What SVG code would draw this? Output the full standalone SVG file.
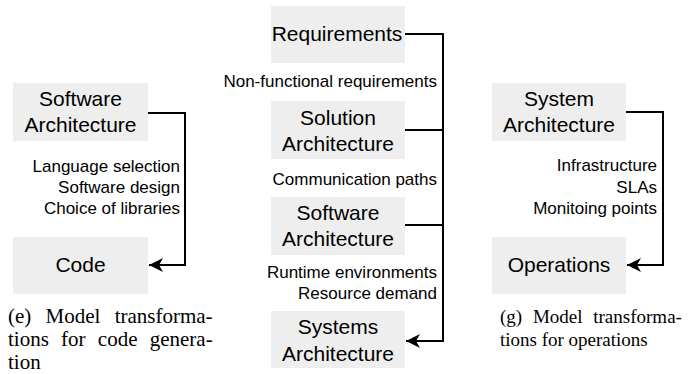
<svg xmlns="http://www.w3.org/2000/svg" width="693" height="374" viewBox="0 0 693 374">
  <style>
    .box { fill: #eeeeee; }
    .bt { font-family: "Liberation Sans", Arial, sans-serif; font-size: 21px; fill: #000; text-anchor: middle; }
    .lb { font-family: "Liberation Sans", Arial, sans-serif; font-size: 17px; fill: #000; text-anchor: end; }
    .cap { font-family: "Liberation Serif", "Times New Roman", serif; font-size: 21px; fill: #000; }
    .cap-g { font-size: 19px; }
    .wire { fill: none; stroke: #000; stroke-width: 2; }
  </style>
  <defs>
    <marker id="arrow" markerUnits="userSpaceOnUse" markerWidth="16" markerHeight="16" viewBox="0 0 16 16" refX="15" refY="8" orient="auto">
      <path d="M15,8 L1,1 L5,8 L1,15 Z" fill="#000"/>
    </marker>
  </defs>

  <!-- panel (e): code generation -->
  <g id="e-software-architecture">
    <rect class="box" x="13" y="83" width="135" height="58"/>
    <text class="bt" x="80.5" y="106">Software</text>
    <text class="bt" x="80.5" y="132">Architecture</text>
  </g>
  <g id="e-code">
    <rect class="box" x="13" y="237" width="135" height="57"/>
    <text class="bt" x="80.5" y="272">Code</text>
  </g>
  <g id="e-labels">
    <text class="lb" x="180" y="172">Language selection</text>
    <text class="lb" x="180" y="193">Software design</text>
    <text class="lb" x="180" y="214">Choice of libraries</text>
  </g>

  <!-- panel (f): architecture chain -->
  <g id="f-requirements">
    <rect class="box" x="271" y="6" width="134" height="57"/>
    <text class="bt" x="337" y="41">Requirements</text>
  </g>
  <g id="f-solution-architecture">
    <rect class="box" x="271" y="101" width="134" height="58"/>
    <text class="bt" x="338" y="125">Solution</text>
    <text class="bt" x="338" y="151">Architecture</text>
  </g>
  <g id="f-software-architecture">
    <rect class="box" x="271" y="197" width="134" height="58"/>
    <text class="bt" x="338" y="220">Software</text>
    <text class="bt" x="338" y="246">Architecture</text>
  </g>
  <g id="f-systems-architecture">
    <rect class="box" x="271" y="311" width="134" height="57"/>
    <text class="bt" x="338" y="334">Systems</text>
    <text class="bt" x="338" y="361">Architecture</text>
  </g>
  <g id="f-labels">
    <text class="lb" x="437" y="87">Non-functional requirements</text>
    <text class="lb" x="437" y="185">Communication paths</text>
    <text class="lb" x="437" y="278">Runtime environments</text>
    <text class="lb" x="437" y="299">Resource demand</text>
  </g>

  <!-- panel (g): operations -->
  <g id="g-system-architecture">
    <rect class="box" x="492" y="83" width="134" height="58"/>
    <text class="bt" x="559" y="106">System</text>
    <text class="bt" x="559" y="132">Architecture</text>
  </g>
  <g id="g-operations">
    <rect class="box" x="492" y="237" width="134" height="57"/>
    <text class="bt" x="559" y="272">Operations</text>
  </g>
  <g id="g-labels">
    <text class="lb" x="657" y="171">Infrastructure</text>
    <text class="lb" x="657" y="193">SLAs</text>
    <text class="lb" x="657" y="214">Monitoing points</text>
  </g>

  <!-- connectors -->
  <g id="connectors">
    <path class="wire" d="M148,113 H185 V265 H149" marker-end="url(#arrow)"/>
    <path class="wire" d="M405,34 H443 V341 H406" marker-end="url(#arrow)"/>
    <path class="wire" d="M405,130 H443"/>
    <path class="wire" d="M405,225 H443"/>
    <path class="wire" d="M626,112 H663 V265 H627" marker-end="url(#arrow)"/>
  </g>

  <!-- captions (justified lines use extra word spacing) -->
  <g id="captions">
    <text class="cap" x="8" y="322.5" word-spacing="9">(e) Model transforma-</text>
    <text class="cap" x="8" y="345.8" word-spacing="7">tions for code genera-</text>
    <text class="cap" x="8" y="369.1">tion</text>
    <text class="cap cap-g" x="500" y="322.5" word-spacing="6">(g) Model transforma-</text>
    <text class="cap cap-g" x="500" y="345.8">tions for operations</text>
  </g>
</svg>
